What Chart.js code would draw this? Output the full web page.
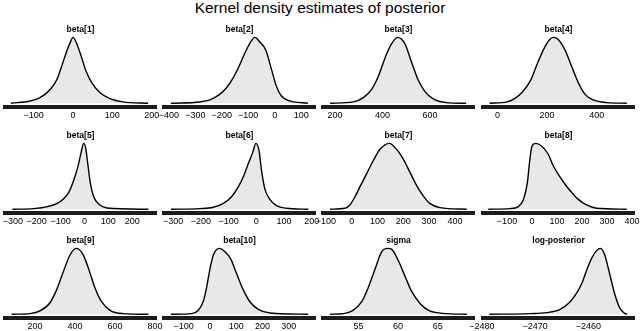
<!DOCTYPE html>
<html>
<head>
<meta charset="utf-8">
<script src="https://cdn.jsdelivr.net/npm/chart.js@4"></script>
<style>
  body { margin: 0; background: #fff; width: 640px; height: 331px; position: relative; overflow: hidden; }
  #mainTitle { position: absolute; left: 0; top: 0; width: 640px; text-align: center; font: 15.5px "Liberation Sans", Arial, sans-serif; line-height: 16px; color: #000; }
  canvas { position: absolute; }
</style>
</head>
<body>
<div id="mainTitle">Kernel density estimates of posterior</div>
<script>
// panel titles
const panelTitles = ['beta[1]', 'beta[2]', 'beta[3]', 'beta[4]', 'beta[5]', 'beta[6]',
    'beta[7]', 'beta[8]', 'beta[9]', 'beta[10]', 'sigma', 'log-posterior'];

// density curves (height relative to each peak)
const beta1X = [-158, -109, -84, -58, -41, -29, -16, -6, 0, 9, 22, 33, 48, 69, 94, 127, 191];
const beta1Y = [0, 0.035, 0.085, 0.21, 0.36, 0.56, 0.79, 0.94, 1.0, 0.91, 0.69, 0.49, 0.31, 0.16, 0.07, 0.02, 0];
const beta2X = [-392, -283, -245, -208, -182, -157, -132, -113, -94, -75, -57, -34, -12, 6, 25, 57, 125];
const beta2Y = [0, 0.02, 0.05, 0.135, 0.235, 0.385, 0.585, 0.76, 0.91, 1.0, 0.935, 0.81, 0.51, 0.26, 0.11, 0.035, 0];
const beta3X = [179, 277, 319, 354, 382, 410, 435, 463, 493, 521, 549, 577, 612, 668, 752];
const beta3Y = [0, 0.02, 0.085, 0.21, 0.41, 0.685, 0.885, 1.0, 0.91, 0.635, 0.36, 0.185, 0.07, 0.01, 0];
const beta4X = [-32, 38, 64, 98, 132, 159, 185, 209, 225, 245, 272, 299, 326, 353, 386, 440, 521];
const beta4Y = [0, 0.02, 0.06, 0.16, 0.335, 0.585, 0.81, 0.96, 1.0, 0.97, 0.81, 0.56, 0.31, 0.135, 0.05, 0.01, 0];
const beta5X = [-302, -212, -155, -114, -86, -65, -45, -28, -14, -3, 5, 14, 25, 39, 60, 94, 268];
const beta5Y = [0, 0.01, 0.04, 0.09, 0.165, 0.26, 0.44, 0.64, 0.86, 1.0, 0.935, 0.69, 0.39, 0.19, 0.08, 0.02, 0];
const beta6X = [-308, -203, -155, -119, -89, -65, -45, -29, -13, -1, 10, 19, 31, 49, 73, 109, 188];
const beta6Y = [0, 0.01, 0.03, 0.09, 0.19, 0.34, 0.51, 0.69, 0.86, 1.0, 0.89, 0.59, 0.31, 0.15, 0.055, 0.015, 0];
const beta7X = [-84, -26, -7, 13, 32, 58, 84, 110, 146, 174, 200, 226, 252, 278, 303, 342, 446];
const beta7Y = [0, 0.015, 0.065, 0.19, 0.34, 0.54, 0.74, 0.91, 1.0, 0.91, 0.76, 0.56, 0.36, 0.2, 0.09, 0.025, 0];
const beta8X = [-175, -88, -55, -35, -19, -9, 0, 15, 38, 65, 85, 112, 138, 158, 185, 218, 258, 379];
const beta8Y = [0, 0.01, 0.04, 0.14, 0.39, 0.74, 0.96, 1.0, 0.96, 0.835, 0.66, 0.49, 0.35, 0.26, 0.15, 0.065, 0.015, 0];
const beta9X = [83, 175, 225, 275, 308, 342, 375, 405, 438, 467, 500, 533, 575, 642, 767];
const beta9Y = [0, 0.01, 0.05, 0.175, 0.37, 0.65, 0.9, 1.0, 0.92, 0.7, 0.4, 0.19, 0.06, 0.01, 0];
const beta10X = [-149, -70, -44, -25, -13, 0, 13, 35, 57, 79, 102, 127, 152, 184, 229, 374];
const beta10Y = [0, 0.01, 0.06, 0.2, 0.4, 0.69, 0.9, 1.0, 0.95, 0.84, 0.61, 0.37, 0.19, 0.075, 0.02, 0];
const sigmaX = [51.4, 53.1, 54.3, 55.4, 56.2, 57.1, 57.9, 58.7, 59.2, 60, 60.9, 61.7, 62.8, 64, 66.2, 68.7];
const sigmaY = [0, 0.01, 0.06, 0.19, 0.4, 0.69, 0.945, 1.0, 0.985, 0.82, 0.57, 0.35, 0.16, 0.05, 0.01, 0];
const logPostX = [-2478.6, -2470.9, -2467.8, -2465.3, -2463.4, -2462.2, -2461.2, -2460.3, -2459.4, -2458.4, -2457.7, -2456.9, -2456, -2455, -2454.1, -2453.2, -2452.7];
const logPostY = [0, 0.01, 0.025, 0.075, 0.19, 0.32, 0.47, 0.67, 0.845, 0.97, 1.0, 0.9, 0.62, 0.3, 0.1, 0.015, 0];

// tick labels on each x axis
const beta1Ticks = [-100, 0, 100, 200];
const beta2Ticks = [-400, -300, -200, -100, 0, 100];
const beta3Ticks = [200, 400, 600];
const beta4Ticks = [0, 200, 400];
const beta5Ticks = [-300, -200, -100, 0, 100, 200];
const beta6Ticks = [-300, -200, -100, 0, 100, 200];
const beta7Ticks = [-100, 0, 100, 200, 300, 400];
const beta8Ticks = [-100, 0, 100, 200, 300, 400];
const beta9Ticks = [200, 400, 600, 800];
const beta10Ticks = [-100, 0, 100, 200, 300];
const sigmaTicks = [55, 60, 65];
const logPostTicks = [-2480, -2470, -2460];

// x axis extents
const axisMin = [-173, -418, 149, -58, -333, -333, -111, -196, 50, -175, 50.5, -2479.8];
const axisMax = [211, 152, 785, 550, 300, 212, 474, 408, 805, 400, 69.6, -2451.4];

const curvesX = [beta1X, beta2X, beta3X, beta4X, beta5X, beta6X, beta7X, beta8X, beta9X, beta10X, sigmaX, logPostX];
const curvesY = [beta1Y, beta2Y, beta3Y, beta4Y, beta5Y, beta6Y, beta7Y, beta8Y, beta9Y, beta10Y, sigmaY, logPostY];
const ticksList = [beta1Ticks, beta2Ticks, beta3Ticks, beta4Ticks, beta5Ticks, beta6Ticks,
    beta7Ticks, beta8Ticks, beta9Ticks, beta10Ticks, sigmaTicks, logPostTicks];

const FONT = '"Liberation Sans", Arial, Helvetica, sans-serif';
const colLeft = [5, 164, 323, 483];
const rowTop = [0, 106, 211];
const plotW = 151;
const pad = 20;
const canvasH = 124;

function makePanel(i) {
    const cv = document.createElement('canvas');
    cv.width = plotW + pad * 2;
    cv.height = canvasH;
    cv.style.left = (colLeft[i % 4] - pad) + 'px';
    cv.style.top = rowTop[Math.floor(i / 4)] + 'px';
    document.body.appendChild(cv);

    const pts = curvesX[i].map((x, k) => ({ x: x, y: curvesY[i][k] }));
    const tickVals = ticksList[i];

    new Chart(cv.getContext('2d'), {
        type: 'line',
        data: {
            datasets: [{
                data: pts,
                borderColor: '#000',
                borderWidth: 1.4,
                backgroundColor: '#e8e8e8',
                fill: 'origin',
                pointRadius: 0,
                cubicInterpolationMode: 'monotone'
            }]
        },
        options: {
            responsive: false,
            animation: false,
            devicePixelRatio: 1,
            layout: { padding: { left: pad, right: pad, top: 0, bottom: 0 } },
            plugins: {
                legend: { display: false },
                tooltip: { enabled: false },
                title: {
                    display: true,
                    text: panelTitles[i],
                    color: '#000',
                    font: { family: FONT, size: 8.5, weight: 'bold' },
                    padding: { top: 24.9, bottom: 0 }
                }
            },
            scales: {
                x: {
                    type: 'linear',
                    min: axisMin[i],
                    max: axisMax[i],
                    grid: { display: false, drawTicks: false },
                    border: { display: true, color: '#1c1c1c', width: 4 },
                    afterBuildTicks: (scale) => { scale.ticks = tickVals.map(v => ({ value: v })); },
                    ticks: {
                        autoSkip: false,
                        maxRotation: 0,
                        padding: 3,
                        color: '#000',
                        font: { family: FONT, size: 9 },
                        callback: (v) => String(v).replace('-', '\u2212')
                    }
                },
                y: {
                    display: false,
                    min: -0.06,
                    max: 1.035
                }
            }
        }
    });
}

for (let i = 0; i < 12; i++) makePanel(i);
</script>
</body>
</html>
